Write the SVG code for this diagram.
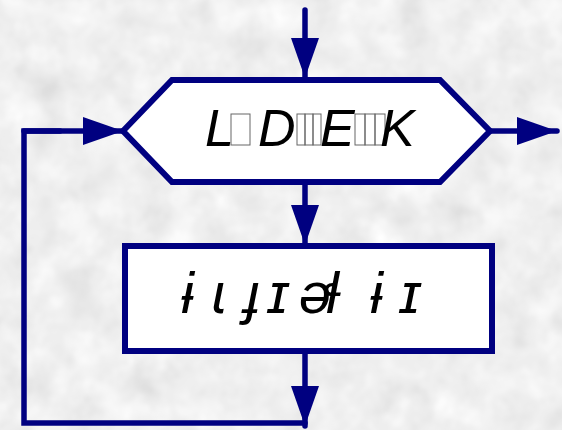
<svg xmlns="http://www.w3.org/2000/svg" width="562" height="430" viewBox="0 0 562 430">
<style>
.ln{fill:none;stroke:#000080;stroke-width:5.5;stroke-linecap:round;stroke-linejoin:miter}
.shape{fill:#ffffff;stroke:#000080;stroke-width:6;stroke-linejoin:miter}
.t1{font-family:"Liberation Sans",Arial,sans-serif;font-style:italic;font-size:52px;fill:#000}
.t2{font-family:"Liberation Sans","DejaVu Sans",sans-serif;font-style:italic;font-size:58px;fill:#000}
.tofu{fill:none;stroke:#666;stroke-width:1}
</style>
<defs>
<filter id="tex" x="0" y="0" width="100%" height="100%">
<feTurbulence type="fractalNoise" baseFrequency="0.03" numOctaves="3" seed="7" result="n"/>
<feColorMatrix in="n" type="matrix" values="0.33 0.33 0.33 0 0  0.33 0.33 0.33 0 0  0.33 0.33 0.33 0 0  0 0 0 0 1" result="g"/>
<feComponentTransfer in="g"><feFuncR type="linear" slope="0.5" intercept="0.62"/><feFuncG type="linear" slope="0.5" intercept="0.62"/><feFuncB type="linear" slope="0.5" intercept="0.62"/></feComponentTransfer>
</filter>
<marker id="ah" viewBox="0 0 40 28" refX="40" refY="14" markerWidth="40" markerHeight="28" markerUnits="userSpaceOnUse" orient="auto">
<path d="M0,0 L40,14 L0,28 Z" fill="#000080"/>
</marker>
</defs>
<rect x="0" y="0" width="562" height="430" fill="#e2e2e2" filter="url(#tex)"/>
<g id="connectors">
<line class="ln" x1="305" y1="10" x2="305" y2="78" marker-end="url(#ah)"/>
<line class="ln" x1="490" y1="131" x2="557" y2="131" marker-end="url(#ah)"/>
<line class="ln" x1="305" y1="183" x2="305" y2="245" marker-end="url(#ah)"/>
<line class="ln" x1="305" y1="351" x2="305" y2="426" marker-end="url(#ah)"/>
<polyline class="ln" points="305,423 24,423 24,131 60,131"/>
<line class="ln" x1="24" y1="131" x2="123" y2="131" marker-end="url(#ah)"/>
</g>
<g id="loop">
<polygon class="shape" points="123,131 172,80 440,80 490,131 440,182 172,182"/>
<text class="t1" x="205" y="146">L</text>
<rect class="tofu" x="231" y="114" width="19" height="31"/>
<text class="t1" x="258" y="146">D</text>
<rect class="tofu" x="297" y="114" width="8" height="31"/>
<rect class="tofu" x="305" y="114" width="8" height="31"/>
<rect class="tofu" x="313" y="114" width="8" height="31"/>
<text class="t1" x="320" y="146">E</text>
<rect class="tofu" x="355" y="114" width="10" height="31"/>
<rect class="tofu" x="365" y="114" width="10" height="31"/>
<rect class="tofu" x="375" y="114" width="10" height="31"/>
<text class="t1" x="380" y="146">K</text>
</g>
<g id="body">
<rect class="shape" x="125" y="246" width="367" height="105"/>
<text class="t2" y="313"><tspan x="181">ɨ</tspan><tspan x="212">ɩ</tspan><tspan x="244">ɟ</tspan><tspan x="268">ɪ</tspan><tspan x="299">ə</tspan><tspan x="326">ɬ</tspan><tspan x="370">ɨ</tspan><tspan x="400">ɪ</tspan></text>
</g>
</svg>
